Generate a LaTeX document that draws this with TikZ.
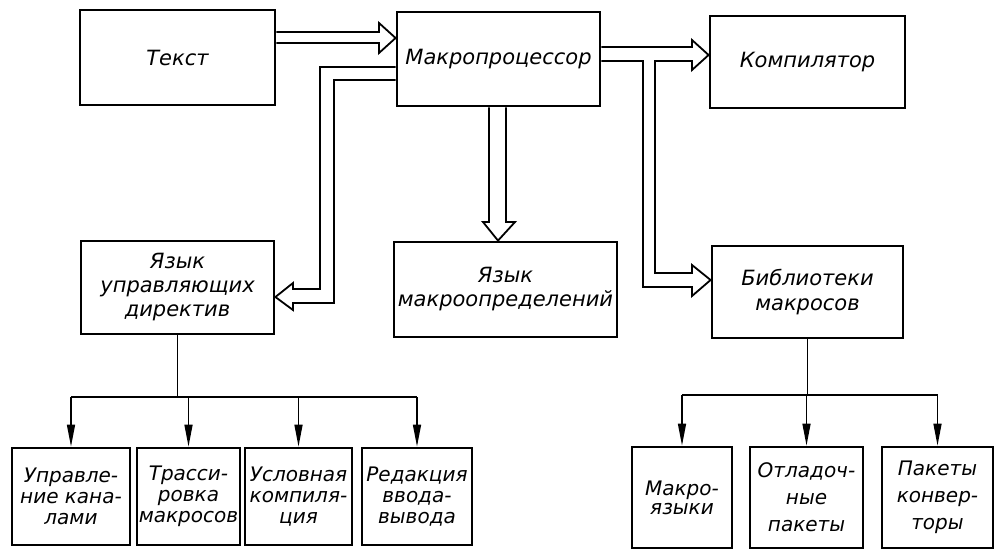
\documentclass[tikz,border=0pt]{standalone}
\usepackage{fontspec}
\setmainfont{DejaVu Sans}
\usetikzlibrary{arrows.meta,calc}
\begin{document}
\begin{tikzpicture}[x=1pt,y=-1pt,
  blk/.style={draw,line width=2.8pt,inner sep=0pt,align=center,font=\fontsize{21}{24}\selectfont\itshape},
  sblk/.style={blk,font=\fontsize{20}{21}\selectfont\itshape},
  dbl/.style={draw,line width=1.8pt,line join=miter},
  thn/.style={draw,line width=1.5pt},
  tipd/.style={thn,-{Triangle[length=22pt,width=8pt]}}]
\useasboundingbox[fill=white] (0,0) rectangle (996,550);
% main boxes
\node[blk,minimum width=195pt,minimum height=95pt] (text) at (177.5,57.5) {Текст};
\node[blk,minimum width=203pt,minimum height=94pt] (macro) at (498.5,59) {Макропроцессор};
\node[blk,minimum width=195pt,minimum height=92pt] (comp) at (807.5,62) {Компилятор};
\node[blk,minimum width=193pt,minimum height=93pt] (dir) at (177.5,287.5) {Язык\\управляющих\\директив};
\node[blk,minimum width=223pt,minimum height=95pt] (mdef) at (505.5,289.5) {Язык\\макроопределений};
\node[blk,minimum width=191pt,minimum height=92pt,font=\fontsize{21}{25}\selectfont\itshape] (lib) at (807.5,292) {Библиотеки\\макросов};
% bottom left boxes
\node[sblk,minimum width=118pt,minimum height=97pt] (b1) at (71,496.5) {Управле-\\ние кана-\\лами};
\node[sblk,minimum width=103pt,minimum height=97pt] (b2) at (188.5,496.5) {Трасси-\\ровка\\макросов};
\node[sblk,minimum width=107pt,minimum height=97pt] (b3) at (298.5,496.5) {Условная\\компиля-\\ция};
\node[sblk,minimum width=110pt,minimum height=97pt] (b4) at (417,496.5) {Редакция\\ввода-\\вывода};
% bottom right boxes
\node[blk,minimum width=100pt,minimum height=101pt,font=\fontsize{20}{19}\selectfont\itshape] (r1) at (682,497.5) {Макро-\\языки};
\node[blk,minimum width=113pt,minimum height=101pt,font=\fontsize{20}{27}\selectfont\itshape] (r2) at (806.5,497.5) {Отладоч-\\ные\\пакеты};
\node[blk,minimum width=111pt,minimum height=101pt,font=\fontsize{20}{27}\selectfont\itshape] (r3) at (937.5,497.5) {Пакеты\\конвер-\\торы};
% double arrows
\draw[dbl] (text.east |- 0,32) -- (379,32) -- (379,23) -- (macro.west |- 0,38)
  -- (379,53) -- (379,43) -- (text.east |- 0,43);
\draw[dbl] (macro.east |- 0,47) -- (692,47) -- (692,40) -- (comp.west |- 0,55)
  -- (692,70) -- (692,61) -- (655,61) -- (655,273) -- (692,273) -- (692,265)
  -- (lib.west |- 0,280) -- (692,296) -- (692,287) -- (643,287) -- (643,61)
  -- (macro.east |- 0,61);
\draw[dbl] (macro.south -| 489,0) -- (489,222) -- (483,222) -- (mdef.north -| 498,0)
  -- (515,222) -- (506,222) -- (macro.south -| 506,0);
\draw[dbl] (macro.west |- 0,67) -- (320,67) -- (320,289) -- (293,289) -- (293,283)
  -- (dir.east |- 0,297) -- (293,310) -- (293,303) -- (334,303) -- (334,80)
  -- (macro.west |- 0,80);
% left tree
\coordinate (busL) at (dir.south |- 0,397);
\draw[thn] (dir.south) -- (busL);
\draw[thn] (b1.north |- busL) -- (b4.north |- busL);
\foreach \b in {b1,b2,b3,b4} \draw[tipd] (\b.north |- busL) -- (\b.north);
% right tree
\coordinate (busR) at (lib.south |- 0,395);
\draw[thn] (lib.south) -- (busR);
\draw[thn] (r1.north |- busR) -- (r3.north |- busR);
\foreach \b in {r1,r2,r3} \draw[tipd] (\b.north |- busR) -- (\b.north);
\end{tikzpicture}
\end{document}
